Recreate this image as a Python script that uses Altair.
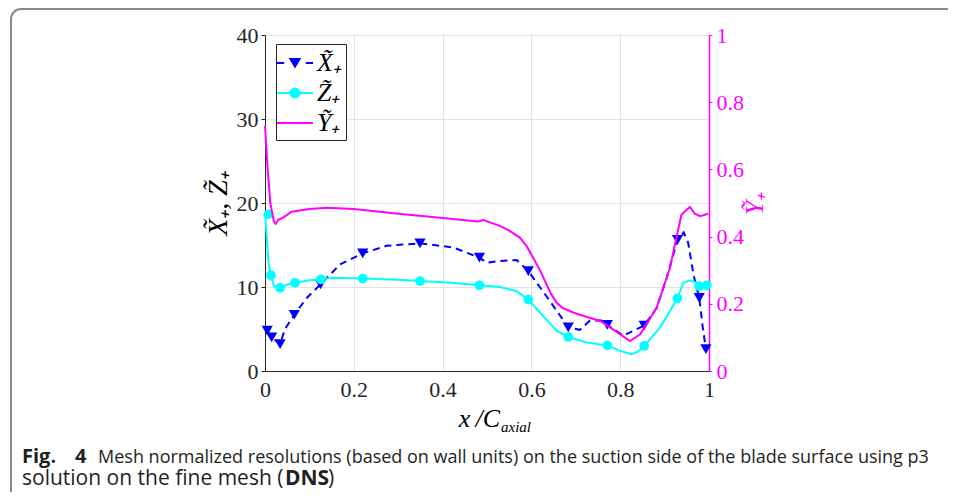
import altair as alt
import pandas as pd

# ---------------- data ----------------
SERIES = ["X̃₊", "Z̃₊", "Ỹ₊"]

# X~+ : markers and dashed curve (left axis)
XM_POS = [0.005, 0.015, 0.034, 0.066, 0.125, 0.22, 0.349, 0.483, 0.593, 0.683, 0.771, 0.854, 0.929, 0.978, 0.993]
XM_VAL = [4.8, 4.0, 3.2, 6.7, 10.3, 14.0, 15.2, 13.5, 11.9, 5.2, 5.5, 5.4, 15.6, 8.7, 2.6]
XL_POS = [0.005, 0.015, 0.034, 0.045, 0.066, 0.094, 0.125, 0.169, 0.22, 0.274, 0.349, 0.424, 0.483,
          0.499, 0.529, 0.567, 0.593, 0.642, 0.683, 0.709, 0.732, 0.76, 0.771, 0.807, 0.854, 0.882,
          0.905, 0.929, 0.943, 0.953, 0.965, 0.978, 0.986, 0.993]
XL_VAL = [4.8, 4.0, 3.2, 5.0, 6.7, 8.7, 10.3, 12.7, 14.0, 14.9, 15.2, 14.7, 13.5,
          12.9, 13.1, 13.2, 11.9, 8.3, 5.2, 4.9, 6.0, 6.0, 5.5, 4.2, 5.4, 7.5,
          11.1, 15.6, 16.5, 15.3, 11.5, 8.7, 5.2, 2.6]

# Z~+ : markers and solid curve (left axis)
ZM_POS = [0.0075, 0.0135, 0.034, 0.0676, 0.126, 0.22, 0.349, 0.483, 0.593, 0.683, 0.771, 0.854, 0.929, 0.978, 0.995]
ZM_VAL = [18.65, 11.4, 9.9, 10.5, 10.9, 11.0, 10.7, 10.2, 8.5, 4.05, 3.05, 2.98, 8.65, 10.1, 10.2]
ZL_POS = [0.0, 0.0035, 0.0075, 0.0135, 0.02, 0.034, 0.05, 0.0676, 0.1, 0.126, 0.15, 0.22, 0.3, 0.349,
          0.42, 0.483, 0.529, 0.567, 0.593, 0.627, 0.657, 0.683, 0.724, 0.771, 0.8, 0.826, 0.84, 0.854,
          0.89, 0.929, 0.942, 0.957, 0.972, 0.978, 0.995]
ZL_VAL = [19.0, 16.3, 13.1, 11.4, 10.1, 9.9, 10.3, 10.5, 10.8, 10.9, 11.1, 11.0, 10.85, 10.7,
          10.5, 10.2, 10.0, 9.5, 8.5, 6.5, 4.8, 4.05, 3.4, 3.05, 2.4, 2.0, 2.3, 2.98,
          5.2, 8.65, 10.5, 10.8, 10.5, 10.1, 10.2]

# Y~+ : solid curve (right axis)
YL_POS = [0.0, 0.006, 0.012, 0.02, 0.024, 0.03, 0.04, 0.06, 0.1, 0.139, 0.2, 0.3, 0.4, 0.48, 0.492,
          0.505, 0.529, 0.55, 0.574, 0.59, 0.604, 0.62, 0.634, 0.645, 0.657, 0.67, 0.694, 0.72, 0.755,
          0.784, 0.822, 0.845, 0.882, 0.912, 0.938, 0.957, 0.968, 0.98, 0.998]
YL_VAL = [0.73, 0.6, 0.5, 0.445, 0.438, 0.45, 0.456, 0.474, 0.482, 0.486, 0.482, 0.468, 0.455, 0.445, 0.449,
          0.443, 0.432, 0.418, 0.397, 0.37, 0.337, 0.298, 0.258, 0.228, 0.203, 0.188, 0.174, 0.163, 0.149,
          0.124, 0.089, 0.109, 0.188, 0.307, 0.466, 0.488, 0.468, 0.461, 0.468]

X_TICKS = [0, 0.2, 0.4, 0.6, 0.8, 1]
LEFT_TICKS = [0, 10, 20, 30, 40]
RIGHT_TICKS = [0, 0.2, 0.4, 0.6, 0.8, 1]

CAPTION_1A = "Fig."
CAPTION_1B = "4"
CAPTION_1 = "Mesh normalized resolutions (based on wall units) on the suction side of the blade surface using p3"
CAPTION_2A = "solution on the fine mesh ("
CAPTION_2B = "DNS"
CAPTION_2C = ")"

# ---------------- style ----------------
W, H = 444, 336
BLUE, CYAN, MAGENTA, AX = "#0000ff", "#00ffff", "#ff00ff", "#262626"
GRID = "#e2e2e2"
SERIF = "Liberation Serif"
SANS = "Open Sans"

# legend symbol paths (line sample + marker) drawn by the legend itself
P_X = ("M-1.2,-0.067H-0.72V0.067H-1.2Z M0.72,-0.067H1.2V0.067H0.72Z "
       "M-0.42,-0.34L0.42,-0.34L0,0.36Z")
P_Z = ("M-1.2,-0.067H1.2V0.067H-1.2Z "
       "M0.36,0A0.36,0.36 0 1,1 -0.36,0A0.36,0.36 0 1,1 0.36,0Z")
P_Y = "M-1.2,-0.067H1.2V0.067H-1.2Z"

df_xm = pd.DataFrame({"x": XM_POS, "y": XM_VAL})
df_xl = pd.DataFrame({"x": XL_POS, "y": XL_VAL})
df_zm = pd.DataFrame({"x": ZM_POS, "y": ZM_VAL})
df_zl = pd.DataFrame({"x": ZL_POS, "y": ZL_VAL})
df_yl = pd.DataFrame({"x": YL_POS, "y": YL_VAL})
df_leg = pd.DataFrame({"series": SERIES})
one = pd.DataFrame({"k": [0]})


def xenc():
    return alt.X("x:Q", scale=alt.Scale(domain=[0, 1], nice=False, zero=False),
                 axis=alt.Axis(values=X_TICKS, format="~g", title=None, labelFont=SERIF,
                               labelFontSize=22, labelColor=AX, labelPadding=8, labelFlush=False,
                               ticks=False, domainColor=AX, domainWidth=1, grid=True,
                               gridColor=GRID, gridWidth=1))


def yleft():
    return alt.Y("y:Q", scale=alt.Scale(domain=[0, 40], nice=False, zero=False),
                 axis=alt.Axis(orient="left", values=LEFT_TICKS, title="X̃₊, Z̃₊",
                               titleFont=SERIF, titleFontSize=28, titleFontStyle="italic",
                               titleFontWeight="normal", titleColor="black", titlePadding=4,
                               labelFont=SERIF, labelFontSize=22, labelColor=AX, labelPadding=3,
                               labelFlush=False, tickSize=4, tickColor=AX, domainColor=AX,
                               grid=True, gridColor=GRID, gridWidth=1))


x_line = alt.Chart(df_xl).mark_line(color=BLUE, strokeWidth=2, strokeDash=[7, 5]).encode(x=xenc(), y=yleft())
x_mark = alt.Chart(df_xm).mark_point(shape="triangle-down", filled=True, size=125, color=BLUE,
                                     opacity=1).encode(x=xenc(), y=yleft())
z_line = alt.Chart(df_zl).mark_line(color=CYAN, strokeWidth=2).encode(x=xenc(), y=yleft())
z_mark = alt.Chart(df_zm).mark_point(shape="circle", filled=True, size=95, color=CYAN,
                                     opacity=1).encode(x=xenc(), y=yleft())

leg_props = dict(title=None, orient="none", legendX=11, legendY=9, direction="vertical",
                 fillColor="white", strokeColor=AX, padding=4, labelFont=SERIF, labelFontSize=26,
                 labelFontStyle="italic", labelColor="black", symbolSize=900, symbolStrokeWidth=0,
                 labelOffset=7, rowPadding=2, symbolOffset=0)
legend_layer = alt.Chart(df_leg).transform_filter("false").mark_point(
    filled=True, opacity=1, strokeWidth=0).encode(
    fill=alt.Fill("series:N", scale=alt.Scale(domain=SERIES, range=[BLUE, CYAN, MAGENTA]),
                  legend=alt.Legend(**leg_props)),
    shape=alt.Shape("series:N", scale=alt.Scale(domain=SERIES, range=[P_X, P_Z, P_Y]),
                    legend=alt.Legend(**leg_props)),
)


def text_layer(txt, x, y, **kw):
    return alt.Chart(one).mark_text(text=txt, **kw).encode(x=alt.value(x), y=alt.value(y))


frame = alt.Chart(one).mark_rect(filled=False, color="#8a8a8a", strokeWidth=2, cornerRadius=10).encode(
    x=alt.value(-254), x2=alt.value(720), y=alt.value(-26), y2=alt.value(480))

xt1 = text_layer("x\u2009/C", 235, 392, font=SERIF, fontSize=26, fontStyle="italic", align="right",
                 baseline="alphabetic", color="black")
xt2 = text_layer("axial", 236, 397, font=SERIF, fontSize=15, fontStyle="italic", align="left",
                 baseline="alphabetic", color="black")

cap_kw = dict(font=SANS, baseline="alphabetic", align="left", color="#231f20")
c1a = text_layer(CAPTION_1A, -243, 428, fontWeight="bold", fontSize=20, **cap_kw)
c1b = text_layer(CAPTION_1B, -190, 428, fontWeight="bold", fontSize=20, **cap_kw)
c1 = text_layer(CAPTION_1, -167, 428, fontSize=18, **cap_kw)
c2a = text_layer(CAPTION_2A, -243, 450, fontSize=21, **cap_kw)
c2b = text_layer(CAPTION_2B, 20, 450, fontWeight="bold", fontSize=21, **cap_kw)
c2c = text_layer(CAPTION_2C, 63, 450, fontSize=21, **cap_kw)

left = alt.layer(frame, x_line, x_mark, z_line, z_mark, legend_layer, xt1, xt2,
                 c1a, c1b, c1, c2a, c2b, c2c)

y_line = alt.Chart(df_yl).mark_line(color=MAGENTA, strokeWidth=2).encode(
    x=xenc(),
    y=alt.Y("y:Q", scale=alt.Scale(domain=[0, 1], nice=False, zero=False),
            axis=alt.Axis(orient="right", values=RIGHT_TICKS, format="~g", title="Ỹ₊",
                          titleFont=SERIF, titleFontSize=26, titleFontStyle="italic",
                          titleFontWeight="normal", titleColor=MAGENTA, titleAngle=270,
                          titlePadding=24, labelFont=SERIF, labelFontSize=22, labelColor=MAGENTA,
                          labelPadding=4, labelFlush=False, tickSize=3, tickColor=MAGENTA,
                          domainColor=MAGENTA, domainWidth=1.5, grid=False)),
)

chart = alt.layer(left, y_line).resolve_scale(y="independent").properties(
    width=W, height=H,
    padding={"left": 257, "top": 27, "right": 239, "bottom": 121},
    autosize=alt.AutoSizeParams(type="none"),
).configure_view(stroke=AX, strokeWidth=1).configure(background="white")

chart.save("out.html", embed_options={"renderer": "svg", "actions": False})
